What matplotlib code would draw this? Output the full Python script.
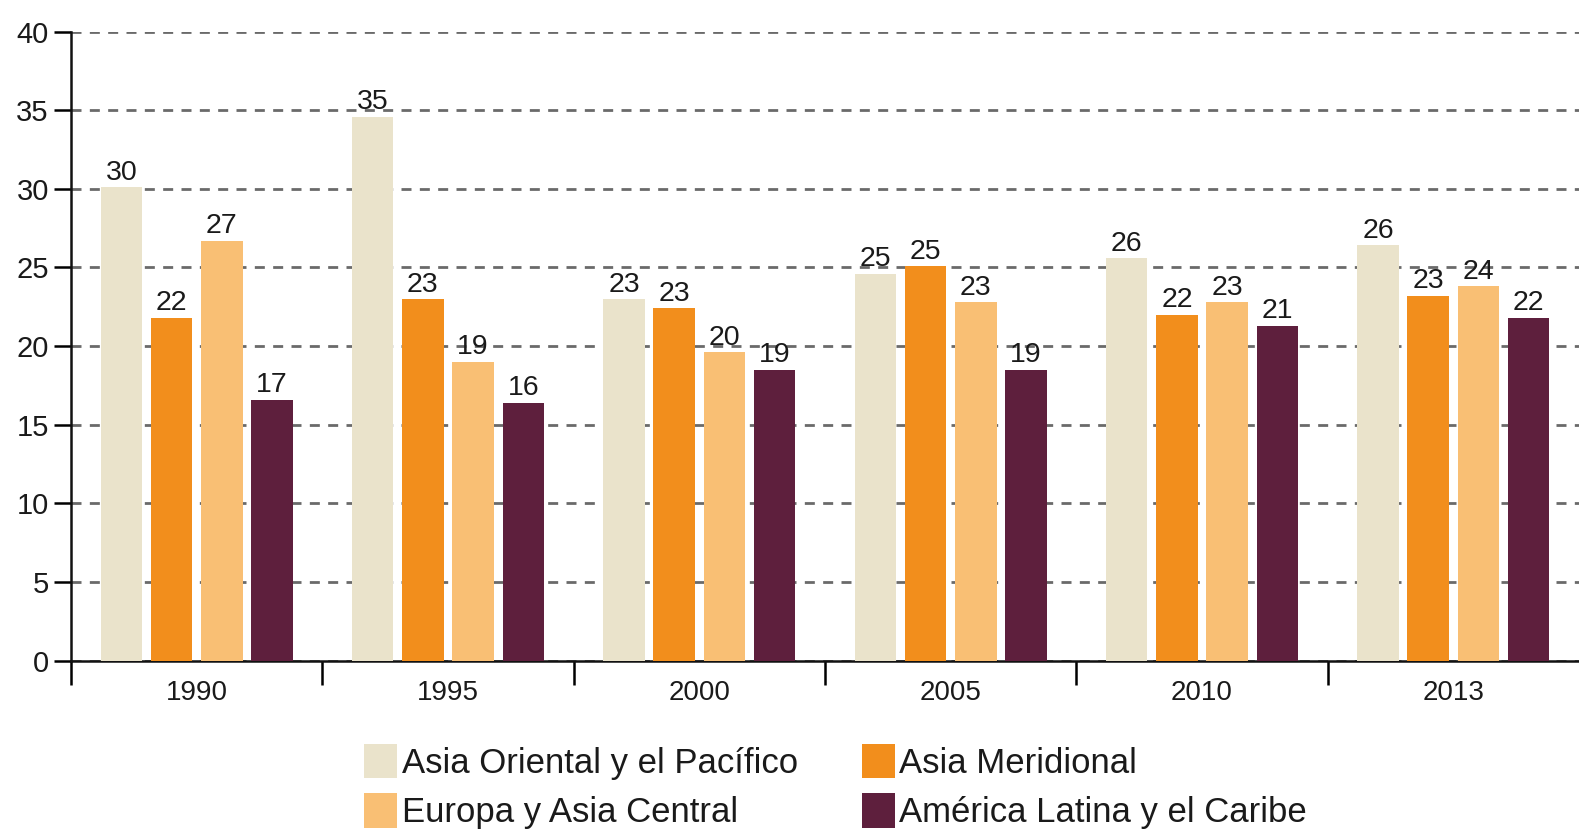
import matplotlib.pyplot as plt
import numpy as np
from matplotlib.patches import Patch

# data
years = ["1990", "1995", "2000", "2005", "2010", "2013"]
series_names = ["Asia Oriental y el Pacífico", "Asia Meridional",
                "Europa y Asia Central", "América Latina y el Caribe"]
asia_oriental = [30.1, 34.6, 23.0, 24.6, 25.6, 26.4]
asia_meridional = [21.8, 23.0, 22.4, 25.1, 22.0, 23.2]
europa_asia_central = [26.7, 19.0, 19.6, 22.8, 22.8, 23.8]
america_latina = [16.6, 16.4, 18.5, 18.5, 21.3, 21.8]
label_oriental = ["30", "35", "23", "25", "26", "26"]
label_meridional = ["22", "23", "23", "25", "22", "23"]
label_europa = ["27", "19", "20", "23", "23", "24"]
label_america = ["17", "16", "19", "19", "21", "22"]

colors = ["#EAE3CB", "#F28E1C", "#F9BF74", "#5E1F3D"]
text_color = "#1a1a1a"

plt.rcParams['font.family'] = ['Liberation Sans', 'DejaVu Sans']

fig = plt.figure(figsize=(15.79, 8.32), dpi=100)
ax = fig.add_axes([0.045, 0.206, 0.955, 0.756])

x = np.arange(len(years))
width = 0.165
step = 0.2
all_vals = [asia_oriental, asia_meridional, europa_asia_central, america_latina]
all_labels = [label_oriental, label_meridional, label_europa, label_america]

for i, (vals, labs) in enumerate(zip(all_vals, all_labels)):
    bars = ax.bar(x + (i - 1.5) * step, vals, width, color=colors[i], zorder=3)
    ax.bar_label(bars, labels=labs, padding=1, fontsize=20.5, color=text_color)

ax.set_ylim(0, 40)
ax.set_xlim(-0.5, 5.5)
ax.set_yticks(np.arange(0, 41, 5))
ax.yaxis.grid(True, linestyle=(0, (3.6, 3.0)), color="#6a6a6a", linewidth=2.0, zorder=0)

ax.set_xticks(x)
ax.set_xticklabels(years)
ax.set_xticks(np.arange(-0.5, 5.0, 1.0), minor=True)
ax.tick_params(axis="x", which="major", length=0, labelsize=20, pad=14, labelcolor=text_color)
ax.tick_params(axis="x", which="minor", length=17, width=1.8, direction="out")
ax.tick_params(axis="y", length=12, width=1.8, labelsize=21, pad=4, labelcolor=text_color)

for s in ["top", "right"]:
    ax.spines[s].set_visible(False)
for s in ["left", "bottom"]:
    ax.spines[s].set_linewidth(1.8)
    ax.spines[s].set_color("#111111")

# legend is filled column by column, so reorder to get the reference's row layout
order = [0, 2, 1, 3]
handles = [Patch(facecolor=colors[k], edgecolor="none") for k in order]
names = [series_names[k] for k in order]
fig.legend(handles, names, ncol=2, loc="upper left",
           bbox_to_anchor=(0.222, 0.123), frameon=False, fontsize=25,
           handlelength=0.95, handleheight=1.15, handletextpad=0.12,
           columnspacing=1.85, labelspacing=0.4, borderaxespad=0,
           labelcolor=text_color)

fig.savefig("out.png", dpi=100)
